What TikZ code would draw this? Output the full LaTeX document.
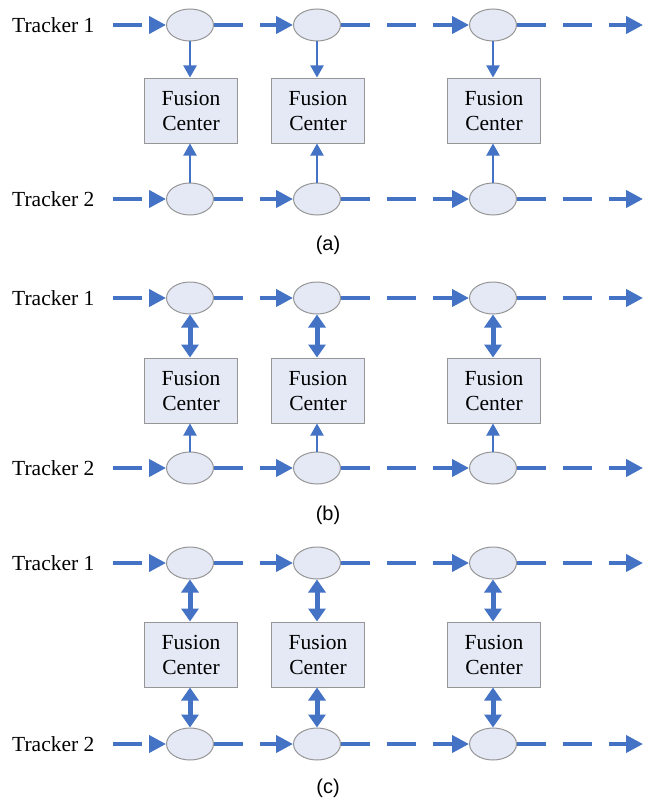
\documentclass[tikz,border=0pt]{standalone}
\usepackage{fontspec}
\setmainfont{Liberation Serif}
\newfontfamily\capfont{Liberation Sans}
\usetikzlibrary{arrows.meta,shapes.geometric}
\definecolor{arrblue}{RGB}{68,114,196}
\definecolor{nodefill}{RGB}{228,233,245}
\definecolor{nodeedge}{RGB}{150,150,150}
\tikzset{
 trk/.style={ellipse, draw=nodeedge, fill=nodefill, minimum width=47pt, minimum height=32pt, inner sep=0pt, line width=1pt},
 fc/.style={rectangle, draw=nodeedge, fill=nodefill, minimum width=93pt, minimum height=65pt, align=center, inner sep=0pt, font=\fontsize{21.5}{25}\selectfont, line width=1pt},
 lbl/.style={anchor=west, font=\fontsize{21.5}{24}\selectfont, inner sep=0pt},
 captxt/.style={font=\capfont\fontsize{20}{22}\selectfont, inner sep=0pt},
 flowd/.style={draw=arrblue, line width=4pt, dash pattern=on 29pt off 17pt, -{Triangle[length=17pt,width=17pt]}},
 thinarr/.style={draw=arrblue, line width=2pt, -{Triangle[length=12pt,width=13pt]}},
 dblarr/.style={draw=arrblue, line width=5pt, {Triangle[length=13pt,width=17pt]}-{Triangle[length=13pt,width=17pt]}},
}
\begin{document}
\begin{tikzpicture}[x=1pt,y=-1pt]
\useasboundingbox (0,0) rectangle (645,800);
\foreach \p/\ya/\yb/\yc/\ycap/\ts/\bs in {a/25/199/110.5/245/thinarr/thinarr, b/298/468/390.5/515/dblarr/thinarr, c/563/744/654.5/788/dblarr/dblarr}{
  \node[lbl] (l\p1) at (12,\ya) {Tracker 1};
  \node[lbl] (l\p2) at (12,\yb) {Tracker 2};
  \coordinate (s\p1) at (113,\ya);
  \coordinate (s\p2) at (113,\yb);
  \coordinate (z\p1) at (643,\ya);
  \coordinate (z\p2) at (643,\yb);
  \node[captxt] (cap\p) at (328,\ycap) {(\p)};
  \foreach \i/\x in {1/190, 2/317, 3/493}{
    \node[trk] (u\p\i) at (\x,\ya) {};
    \node[trk] (d\p\i) at (\x,\yb) {};
    \node[fc] (f\p\i) at (\x+1,\yc) {Fusion\\Center};
    \draw[\ts] (u\p\i.south) -- (f\p\i.north -| u\p\i.south);
    \draw[\bs] (d\p\i.north) -- (f\p\i.south -| d\p\i.north);
  }
  \draw[flowd] (s\p1) -- (u\p1.west);
  \draw[flowd] (s\p2) -- (d\p1.west);
  \draw[flowd] (u\p1.east) -- (u\p2.west);
  \draw[flowd] (u\p2.east) -- (u\p3.west);
  \draw[flowd] (u\p3.east) -- (z\p1);
  \draw[flowd] (d\p1.east) -- (d\p2.west);
  \draw[flowd] (d\p2.east) -- (d\p3.west);
  \draw[flowd] (d\p3.east) -- (z\p2);
}
\end{tikzpicture}
\end{document}
